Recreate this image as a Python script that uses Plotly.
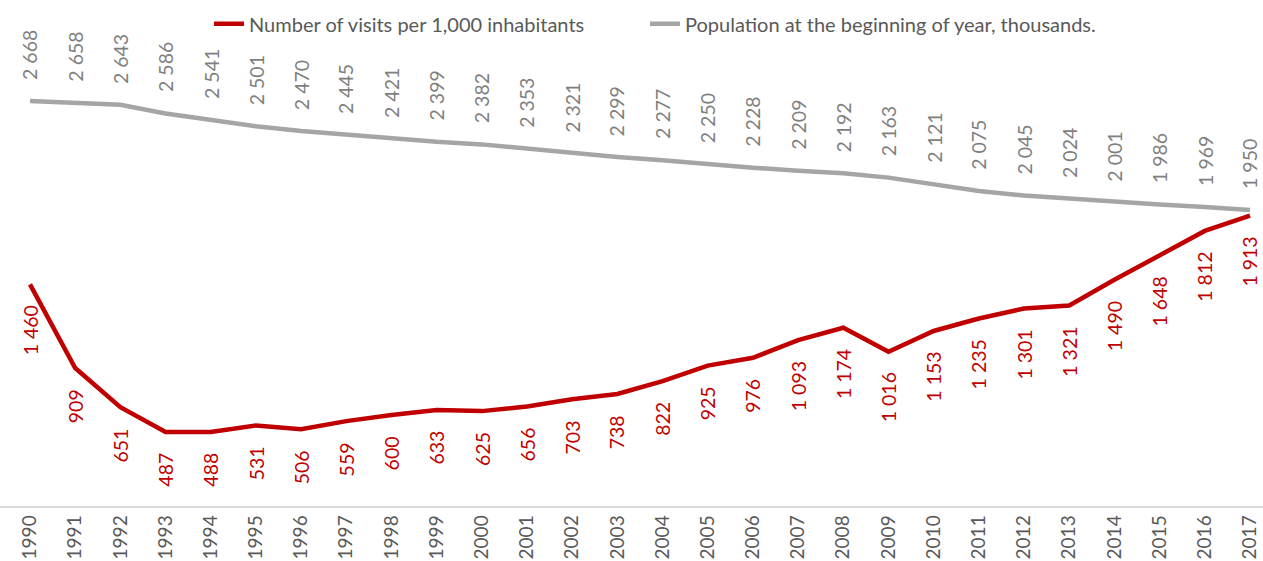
import plotly.graph_objects as go

years = list(range(1990, 2018))
visits = [1460, 909, 651, 487, 488, 531, 506, 559, 600, 633, 625, 656, 703, 738, 822,
          925, 976, 1093, 1174, 1016, 1153, 1235, 1301, 1321, 1490, 1648, 1812, 1913]
population = [2668, 2658, 2643, 2586, 2541, 2501, 2470, 2445, 2421, 2399, 2382, 2353, 2321, 2299,
              2277, 2250, 2228, 2209, 2192, 2163, 2121, 2075, 2045, 2024, 2001, 1986, 1969, 1950]

red = '#C00000'
grey = '#A5A5A5'
font = 'Lato'

def fmt(v):
    return f"{v:,}".replace(",", " ")

fig = go.Figure()
fig.add_trace(go.Scatter(x=years, y=visits, mode='lines', name='Number of visits per 1,000 inhabitants',
                         line=dict(color=red, width=4.5), legend='legend'))
fig.add_trace(go.Scatter(x=years, y=population, mode='lines', name='Population at the beginning of year, thousands.',
                         line=dict(color=grey, width=4.5), legend='legend2'))

anns = []
for yr, v in zip(years, visits):
    anns.append(dict(x=yr, y=v, text=fmt(v), showarrow=False, textangle=-90, xanchor='center',
                     yanchor='top', yshift=-19, font=dict(color=red, size=19.5, family=font)))
for yr, v in zip(years, population):
    anns.append(dict(x=yr, y=v, text=fmt(v), showarrow=False, textangle=-90, xanchor='center',
                     yanchor='bottom', yshift=19, font=dict(color='#7F7F7F', size=19.5, family=font)))

leg = dict(orientation='h', xanchor='left', y=0.953, yanchor='middle',
           font=dict(size=20, color='#595959'), bgcolor='rgba(0,0,0,0)')

fig.update_layout(
    width=1263, height=561,
    margin=dict(l=0, r=0, t=0, b=55, autoexpand=False),
    plot_bgcolor='white', paper_bgcolor='white',
    font=dict(family=font, color='#595959', size=19),
    showlegend=True,
    legend=dict(leg, x=0.1655),
    legend2=dict(leg, x=0.5107),
    annotations=anns,
)
fig.update_xaxes(range=[1989.336, 2017.288], tickmode='array', tickvals=years, ticktext=[str(y) for y in years],
                 tickangle=-90, showgrid=False, showline=True, linecolor='#D9D9D9', linewidth=1.5,
                 ticks='', zeroline=False, automargin=False, tickfont=dict(size=19, color='#595959'))
fig.update_yaxes(range=[0, 3333], visible=False, showgrid=False, zeroline=False, automargin=False)

# drop the default page margin so the figure fills the window exactly
fig.write_html("out.html", config={'displayModeBar': False},
               post_script="document.body.style.margin='0';document.body.style.overflow='hidden';")
